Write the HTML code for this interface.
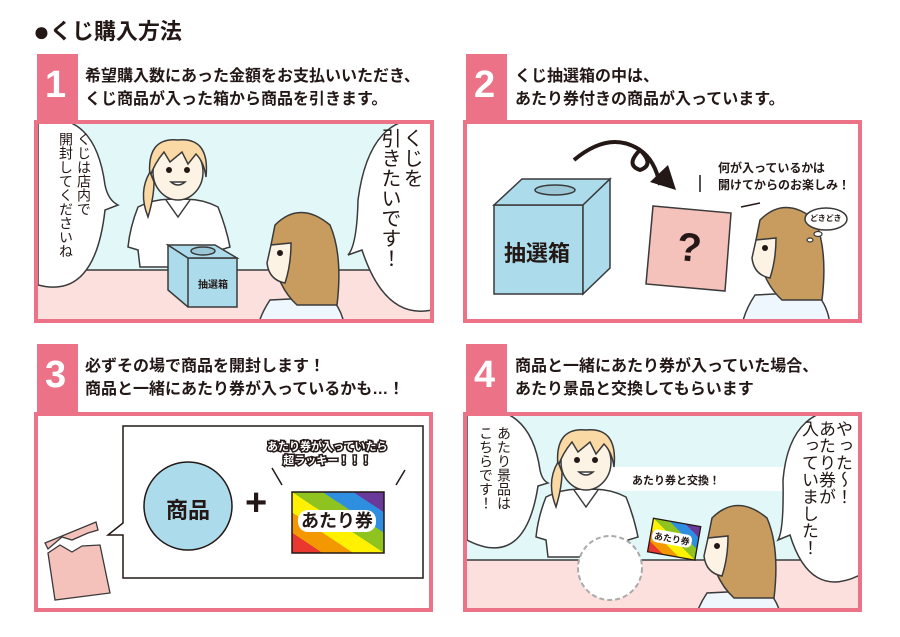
<!DOCTYPE html>
<html><head><meta charset="utf-8"><style>
body{margin:0;background:#fff;}
#w{position:relative;width:900px;height:637px;overflow:hidden;font-family:"Liberation Sans","Noto Sans CJK JP",sans-serif;color:#231815;}
.t{position:absolute;white-space:nowrap;}
.v{position:absolute;writing-mode:vertical-rl;white-space:nowrap;line-height:1;}
.h{font-size:16px;font-weight:bold;line-height:23px;}
</style></head><body><div id="w">
<svg width="900" height="637" style="position:absolute;left:0;top:0">
<defs>
<clipPath id="c1"><rect x="38" y="124" width="392" height="195"/></clipPath>
<clipPath id="c2"><rect x="467" y="124" width="391" height="195"/></clipPath>
<clipPath id="c3"><rect x="38" y="416" width="391" height="192"/></clipPath>
<clipPath id="c4"><rect x="467" y="416" width="391" height="192"/></clipPath>
<linearGradient id="rb" x1="0" y1="1" x2="1" y2="0" spreadMethod="repeat">
<stop offset="0" stop-color="#e8382f"/><stop offset=".166" stop-color="#e8382f"/>
<stop offset=".166" stop-color="#f39800"/><stop offset=".333" stop-color="#f39800"/>
<stop offset=".333" stop-color="#fff100"/><stop offset=".5" stop-color="#fff100"/>
<stop offset=".5" stop-color="#8fc31f"/><stop offset=".666" stop-color="#8fc31f"/>
<stop offset=".666" stop-color="#2e8fe0"/><stop offset=".833" stop-color="#2e8fe0"/>
<stop offset=".833" stop-color="#6a3a9a"/><stop offset="1" stop-color="#6a3a9a"/>
</linearGradient>
<g id="clerk" stroke="#3a3a3a" stroke-width="1.5">
<path d="M-40,35 Q-48,55 -50,75 L-40,78 L-38,95 L42,95 L42,78 L52,75 Q48,55 40,35 Q20,25 0,28 Q-20,25 -40,35Z" fill="#fff"/>
<path d="M-12,28 L0,45 L12,28" fill="#fff"/>
<ellipse cx="0" cy="0" rx="25" ry="28" fill="#fdf3e5"/>
<path d="M-28,5 Q-32,-35 0,-32 Q32,-35 28,5 Q26,-10 18,-18 L10,-8 L4,-20 L-8,-10 L-14,-20 Q-24,-8 -28,5Z" fill="#fbd9a4"/>
<path d="M-28,0 Q-40,20 -30,45 Q-24,25 -24,10Z" fill="#fbd9a4"/>
<circle cx="-9" cy="-2" r="3" fill="#231815" stroke="none"/><circle cx="9" cy="-2" r="3" fill="#231815" stroke="none"/>
<path d="M-7,10 Q0,16 7,10Z" fill="#fff"/>
</g>
<g id="girl" stroke="#3a3a3a" stroke-width="1.5">
<path d="M-35,45 Q-45,60 -48,75 L40,75 Q38,55 25,42Z" fill="#eef7fd"/>
<path d="M-30,-30 Q-5,-55 25,-30 Q38,0 32,50 L-8,50 Q-30,30 -34,-10Z" fill="#c89b5e"/>
<path d="M-34,-10 L-38,8 Q-36,25 -20,28 Q-14,10 -14,-12Z" fill="#fdf3e5"/>
<circle cx="-25" cy="-2" r="3" fill="#231815" stroke="none"/>
</g>
</defs>
<g fill="#ec7287">
<rect x="37" y="54" width="41" height="70"/><rect x="466" y="54" width="41" height="70"/>
<rect x="37" y="344" width="41" height="70"/><rect x="466" y="344" width="41" height="70"/>
</g>
<g clip-path="url(#c1)">
<rect x="38" y="124" width="392" height="195" fill="#e2f8f8"/>
<rect x="38" y="270" width="392" height="50" fill="#fbe0dd"/>
<line x1="38" y1="270" x2="430" y2="270" stroke="#3a3a3a" stroke-width="1.5"/>
<use href="#clerk" x="178" y="172"/>
<g stroke="#3a3a3a" stroke-width="1.5" fill="#acdcec">
<path d="M168,245 L188,258 L237,258 L237,307 L188,307 L168,290Z"/>
<path d="M168,245 L215,245 L237,258 L188,258Z"/>
<line x1="188" y1="258" x2="188" y2="307"/>
<ellipse cx="203" cy="251" rx="12" ry="4" fill="#9cc7d6"/>
</g>
<use href="#girl" x="305" y="255"/>
<path d="M38,120 Q95,110 105,185 Q108,200 118,205 L105,210 Q95,300 38,285Z" fill="#fff" stroke="#3a3a3a" stroke-width="1.5"/>
<path d="M432,120 Q370,110 358,200 Q357,245 348,255 L362,250 Q385,320 432,310Z" fill="#fff" stroke="#3a3a3a" stroke-width="1.5"/>
</g>
<rect x="36" y="122" width="396" height="199" fill="none" stroke="#ec7287" stroke-width="4"/>
<g clip-path="url(#c2)">
<path d="M574,160 Q610,130 640,150 Q655,165 640,170 Q625,165 640,150 Q655,160 660,185" fill="none" stroke="#231815" stroke-width="4"/>
<path d="M650,182 L676,190 L668,165Z" fill="#231815"/>
<g stroke="#3a3a3a" stroke-width="1.5" fill="#acdcec">
<rect x="494" y="205" width="89" height="89"/>
<path d="M494,205 L522,179 L610,179 L583,205Z"/>
<path d="M583,205 L610,179 L610,268 L583,294Z"/>
<ellipse cx="555" cy="190" rx="20" ry="5" fill="#9cc7d6"/>
</g>
<path d="M653,206 L731,213 L725,291 L646,284Z" fill="#f5c1bb" stroke="#3a3a3a" stroke-width="1.5"/>
<line x1="700" y1="175" x2="700" y2="192" stroke="#231815" stroke-width="1.5"/>
<line x1="741" y1="207" x2="760" y2="203" stroke="#231815" stroke-width="1.5"/>
<use href="#girl" x="790" y="250"/>
<ellipse cx="826" cy="219" rx="21" ry="11" fill="#fff" stroke="#3a3a3a" stroke-width="1.5"/>
<ellipse cx="818" cy="234" rx="4" ry="2.5" fill="#fff" stroke="#3a3a3a" stroke-width="1.2"/>
<ellipse cx="810" cy="240" rx="3" ry="2" fill="#fff" stroke="#3a3a3a" stroke-width="1.2"/>
</g>
<rect x="465" y="122" width="395" height="199" fill="none" stroke="#ec7287" stroke-width="4"/>
<g clip-path="url(#c3)">
<path d="M123,426 L423,426 L423,578 L123,578 L123,535 L108,535 L123,523Z" fill="#fff" stroke="#231815" stroke-width="1.5"/>
<circle cx="188" cy="506" r="44" fill="#acdcec" stroke="#231815" stroke-width="1.5"/>
<rect x="292" y="492" width="92" height="61" fill="url(#rb)" stroke="#231815" stroke-width="1.5"/>
<line x1="272" y1="468" x2="282" y2="485" stroke="#231815" stroke-width="1.5"/>
<line x1="405" y1="470" x2="396" y2="485" stroke="#231815" stroke-width="1.5"/>
<path d="M45,543 L96,522 L98,530 L88,533 L72,540 L62,537 L48,549Z" fill="#f5c1bb" stroke="#3a3a3a" stroke-width="1.3"/>
<path d="M48,553 L60,545 L72,552 L82,546 L100,545 L110,593 L55,600Z" fill="#f5c1bb" stroke="#3a3a3a" stroke-width="1.3"/>
</g>
<rect x="36" y="414" width="395" height="196" fill="none" stroke="#ec7287" stroke-width="4"/>
<g clip-path="url(#c4)">
<rect x="467" y="416" width="391" height="195" fill="#e2f8f8"/>
<rect x="467" y="560" width="391" height="50" fill="#fbe0dd"/>
<line x1="467" y1="560" x2="858" y2="560" stroke="#3a3a3a" stroke-width="1.5"/>
<rect x="600" y="467" width="258" height="24" fill="#fff"/>
<use href="#clerk" x="586" y="462"/>
<circle cx="610" cy="568" r="32" fill="#fff" stroke="#aaa" stroke-width="2" stroke-dasharray="5,3"/>
<g transform="rotate(10 673 540)"><rect x="650" y="522" width="48" height="34" fill="url(#rb)" stroke="#231815" stroke-width="1.3"/></g>
<use href="#girl" x="742" y="548"/>
<path d="M467,410 Q530,400 540,470 Q542,480 548,483 L538,486 Q525,570 467,540Z" fill="#fff" stroke="#3a3a3a" stroke-width="1.5"/>
<path d="M860,410 Q790,400 783,480 Q784,530 778,540 L790,535 Q810,600 860,575Z" fill="#fff" stroke="#3a3a3a" stroke-width="1.5"/>
</g>
<rect x="465" y="414" width="395" height="196" fill="none" stroke="#ec7287" stroke-width="4"/>
</svg>
<div class="t" style="left:33px;top:14px;font-size:22px;font-weight:bold;"><span style="font-size:28px;line-height:22px;vertical-align:-2px;">●</span>くじ購入方法</div>
<div class="t" style="left:45px;top:64px;font-size:38px;font-weight:bold;color:#fff;">1</div>
<div class="t" style="left:474px;top:64px;font-size:38px;font-weight:bold;color:#fff;">2</div>
<div class="t" style="left:45px;top:354px;font-size:38px;font-weight:bold;color:#fff;">3</div>
<div class="t" style="left:474px;top:354px;font-size:38px;font-weight:bold;color:#fff;">4</div>
<div class="t h" style="left:85px;top:65px;">希望購入数にあった金額をお支払いいただき、<br>くじ商品が入った箱から商品を引きます。</div>
<div class="t h" style="left:515px;top:65px;">くじ抽選箱の中は、<br>あたり券付きの商品が入っています。</div>
<div class="t h" style="left:85px;top:355px;">必ずその場で商品を開封します！<br>商品と一緒にあたり券が入っているかも…！</div>
<div class="t h" style="left:515px;top:355px;">商品と一緒にあたり券が入っていた場合、<br>あたり景品と交換してもらいます</div>
<div class="v" style="left:57px;top:132px;font-size:14px;line-height:18px;">くじは店内で<br>開封してくださいね</div>
<div class="v" style="left:378px;top:128px;font-size:20px;line-height:22px;">くじを<br>引きたいです！</div>
<div class="t" style="left:198px;top:276px;font-size:10px;font-weight:bold;">抽選箱</div>
<div class="t" style="left:504px;top:236px;font-size:22px;font-weight:bold;">抽選箱</div>
<div class="t" style="left:677px;top:226px;font-size:40px;font-weight:bold;transform:rotate(5deg);">?</div>
<div class="t" style="left:718px;top:160px;font-size:12px;font-weight:bold;line-height:17px;">何が入っているかは<br>開けてからのお楽しみ！</div>
<div class="t" style="left:810px;top:213px;font-size:8px;font-weight:bold;">どきどき</div>
<div class="t" style="left:166px;top:493px;font-size:22px;font-weight:bold;">商品</div>
<div class="t" style="left:245px;top:482px;font-size:38px;font-weight:bold;">+</div>
<div class="t" style="left:267px;top:440px;font-size:11px;font-weight:bold;line-height:14px;text-align:center;color:#fff;-webkit-text-stroke:3px #231815;paint-order:stroke fill;">あたり券が入っていたら<br>超ラッキー！！！</div>
<div class="t" style="left:298px;top:510px;font-size:18px;font-weight:bold;color:#231815;background:#fff;border-radius:10px;padding:0 3px;line-height:22px;">あたり券</div>
<div class="v" style="left:477px;top:426px;font-size:14px;line-height:18px;">あたり景品は<br>こちらです！</div>
<div class="t" style="left:632px;top:472px;font-size:11px;font-weight:bold;">あたり券と交換！</div>
<div class="t" style="left:652px;top:532px;font-size:9px;font-weight:bold;background:#fff;border-radius:5px;padding:0 2px;transform:rotate(10deg);">あたり券</div>
<div class="v" style="left:800px;top:420px;font-size:17px;line-height:17px;">やった〜！<br>あたり券が<br>入っていました！</div>
</div></body></html>
